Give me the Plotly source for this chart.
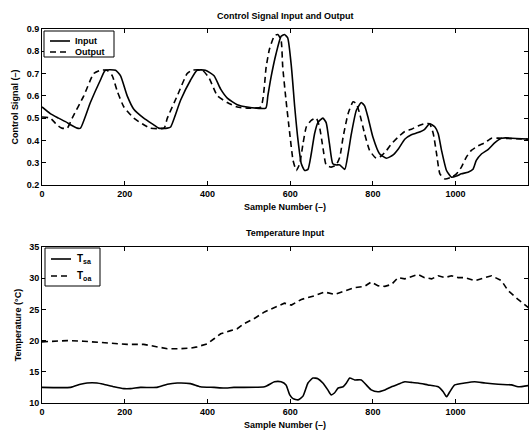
import plotly.graph_objects as go
from plotly.subplots import make_subplots

# ---- Control signal data ----
in_x = [0, 20, 40, 61, 69, 85, 93, 117, 141, 153, 178, 190, 206, 222, 246, 270, 282, 303, 311, 335, 359, 375, 395, 416, 432, 448, 472, 496, 541,
        546, 554, 566, 578, 586, 594, 603, 611, 619, 627, 635, 643, 651, 659, 667, 679, 687, 695, 703, 711, 720, 732, 740, 748, 760, 772, 780, 788,
        800, 816, 833, 849, 861, 877, 893, 909, 925, 937, 950, 958, 966, 978, 990, 1002, 1014, 1030, 1042, 1050, 1063, 1079, 1095, 1111, 1180]
in_y = [0.55, 0.52, 0.50, 0.48, 0.47, 0.455, 0.455, 0.57, 0.67, 0.715, 0.715, 0.69, 0.60, 0.54, 0.50, 0.47, 0.455, 0.455, 0.46, 0.58, 0.67, 0.715, 0.715, 0.69, 0.63, 0.59, 0.56, 0.55, 0.545,
        0.60, 0.686, 0.79, 0.867, 0.875, 0.86, 0.73, 0.55, 0.40, 0.295, 0.265, 0.27, 0.34, 0.43, 0.48, 0.50, 0.48, 0.385, 0.295, 0.29, 0.29, 0.27, 0.34, 0.43, 0.535, 0.57, 0.555,
        0.505, 0.415, 0.34, 0.32, 0.335, 0.36, 0.405, 0.425, 0.435, 0.45, 0.475, 0.46, 0.43, 0.355, 0.265, 0.235, 0.24, 0.25, 0.257, 0.27, 0.31, 0.34, 0.36, 0.39, 0.41, 0.405]

out_x = [0, 20, 36, 48, 61, 73, 101, 125, 141, 157, 170, 182, 198, 222, 246, 262, 295, 303, 327, 351, 363, 388, 404, 424, 448, 472, 496, 529,
         542, 550, 562, 570, 578, 582, 590, 599, 607, 615, 623, 631, 639, 651, 663, 671, 679, 687, 699, 711, 720, 728, 740, 752, 760, 768, 780,
         792, 808, 820, 833, 845, 861, 877, 893, 909, 925, 937, 946, 954, 962, 974, 990, 1002, 1014, 1026, 1038, 1054, 1071, 1087, 1103, 1180]
out_y = [0.505, 0.50, 0.47, 0.455, 0.455, 0.50, 0.60, 0.70, 0.715, 0.715, 0.69, 0.62, 0.55, 0.50, 0.47, 0.455, 0.455, 0.50, 0.60, 0.70, 0.715, 0.715, 0.68, 0.60, 0.57, 0.55, 0.545, 0.55,
         0.73, 0.81, 0.87, 0.875, 0.85, 0.73, 0.58, 0.43, 0.31, 0.265, 0.295, 0.385, 0.46, 0.49, 0.50, 0.46, 0.37, 0.29, 0.28, 0.29, 0.325, 0.415, 0.52, 0.573, 0.565, 0.52, 0.43,
         0.355, 0.32, 0.33, 0.355, 0.385, 0.415, 0.44, 0.45, 0.465, 0.475, 0.475, 0.43, 0.34, 0.25, 0.227, 0.235, 0.25, 0.28, 0.325, 0.355, 0.375, 0.39, 0.41, 0.41, 0.405]

# ---- Temperature data ----
tsa_x = [0, 69, 93, 109, 133, 149, 174, 198, 214, 238, 278, 303, 327, 359, 383, 416, 440, 464, 538, 562, 578, 590, 599, 607, 619, 631, 643,
         655, 667, 679, 691, 699, 707, 716, 728, 736, 744, 756, 772, 784, 796, 812, 829, 845, 861, 877, 893, 909, 933, 958, 970, 978, 986, 998,
         1022, 1046, 1071, 1103, 1135, 1151, 1176]
tsa_y = [12.5, 12.5, 13.0, 13.2, 13.2, 13.0, 12.6, 12.3, 12.3, 12.5, 12.5, 13.0, 13.2, 13.1, 12.6, 12.5, 12.4, 12.5, 12.6, 13.4, 13.4, 12.9, 11.3, 10.7, 10.5, 11.1, 13.2,
         14.0, 13.9, 13.2, 12.1, 11.3, 11.6, 12.4, 12.6, 13.2, 14.0, 13.7, 13.7, 12.9, 12.1, 11.8, 12.1, 12.6, 13.0, 13.4, 13.3, 13.2, 12.9, 12.6, 11.8, 11.0, 11.8, 12.9,
         13.2, 13.4, 13.2, 13.0, 12.9, 12.6, 12.8]

toa_x = [0, 20, 61, 101, 141, 165, 206, 246, 278, 303, 335, 359, 375, 400, 416, 432, 456, 472, 488, 512, 538, 562, 586, 603, 627, 659, 683,
         707, 732, 756, 780, 796, 812, 829, 845, 861, 877, 893, 909, 925, 942, 958, 974, 990, 1006, 1022, 1046, 1071, 1087, 1111, 1127, 1151, 1176]
toa_y = [19.8, 19.9, 20.0, 19.9, 19.7, 19.5, 19.4, 19.4, 19.0, 18.7, 18.7, 18.8, 19.0, 19.5, 20.3, 21.1, 21.6, 21.9, 22.7, 23.5, 24.6, 25.3, 26.0, 25.7, 26.6, 27.2, 27.8,
         27.4, 28.0, 28.5, 28.7, 29.4, 28.8, 28.7, 29.0, 30.1, 29.9, 30.2, 30.6, 30.1, 29.9, 30.4, 30.1, 30.4, 30.1, 30.1, 29.6, 30.1, 30.4, 29.6, 28.0, 26.6, 25.3]

top_names = ["Input", "Output"]
bot_names = ["T<sub>sa</sub>", "T<sub>oa</sub>"]

FONT = dict(family="Liberation Sans, Arial, sans-serif", size=9, color="black", weight="bold")
DASH = "6px,4px"
LW = 1.6

W, H = 529, 435
ML, MR, MT, MB = 42, 1, 29, 32
PW, PH = W - ML - MR, H - MT - MB


def px(x):
    return (x - ML) / PW


def py(y):
    return (H - MB - y) / PH


fig = make_subplots(rows=2, cols=1, vertical_spacing=0.166)

SM = dict(shape="spline", smoothing=0.5)
fig.add_trace(go.Scatter(x=in_x, y=in_y, mode="lines", name=top_names[0], line=dict(color="black", width=LW, **SM)), row=1, col=1)
fig.add_trace(go.Scatter(x=out_x, y=out_y, mode="lines", name=top_names[1], line=dict(color="black", width=LW, dash=DASH, **SM)), row=1, col=1)
fig.add_trace(go.Scatter(x=tsa_x, y=tsa_y, mode="lines", name=bot_names[0], line=dict(color="black", width=LW, **SM)), row=2, col=1)
fig.add_trace(go.Scatter(x=toa_x, y=toa_y, mode="lines", name=bot_names[1], line=dict(color="black", width=LW, dash=DASH)), row=2, col=1)

axcommon = dict(showline=True, linecolor="black", linewidth=1, mirror="ticks", ticks="inside", ticklen=4,
                tickcolor="black", showgrid=False, zeroline=False, tickfont=FONT)

fig.update_xaxes(range=[0, 1175], tickvals=[0, 200, 400, 600, 800, 1000], **axcommon)
fig.update_xaxes(title=dict(text="Sample Number (–)", font=FONT, standoff=5), row=1, col=1)
fig.update_xaxes(title=dict(text="Sample Number (–)", font=FONT, standoff=5), row=2, col=1)
fig.update_yaxes(range=[0.2, 0.9], tickvals=[0.2, 0.3, 0.4, 0.5, 0.6, 0.7, 0.8, 0.9], tickformat=".1f",
                 title=dict(text="Control Signal (–)", font=FONT, standoff=6), row=1, col=1, **axcommon)
fig.update_yaxes(range=[10, 35], tickvals=[10, 15, 20, 25, 30, 35],
                 title=dict(text="Temperature (°C)", font=FONT, standoff=6), row=2, col=1, **axcommon)

shapes = []
annotations = [
    dict(text="Control Signal Input and Output", x=0.5, y=1, xref="paper", yref="paper", xanchor="center", yanchor="bottom", yshift=6, showarrow=False, font=FONT),
    dict(text="Temperature Input", x=0.5, y=0.42, xref="paper", yref="paper", xanchor="center", yanchor="bottom", yshift=6, showarrow=False, font=FONT),
]

# Top legend (manual, compact MATLAB style)
shapes.append(dict(type="rect", xref="paper", yref="paper", x0=px(44), x1=px(114), y0=py(57), y1=py(31),
                   line=dict(color="black", width=1), fillcolor="white", layer="above"))
for i, (yy, dash) in enumerate([(41, "solid"), (52, DASH)]):
    shapes.append(dict(type="line", xref="paper", yref="paper", x0=px(50), x1=px(70), y0=py(yy), y1=py(yy),
                       line=dict(color="black", width=LW, dash=dash), layer="above"))
    annotations.append(dict(text=top_names[i], x=px(73), y=py(yy), xref="paper", yref="paper", xanchor="left", yanchor="middle",
                            showarrow=False, font=FONT))

# Bottom legend
shapes.append(dict(type="rect", xref="paper", yref="paper", x0=px(45), x1=px(100), y0=py(286), y1=py(248),
                   line=dict(color="black", width=1), fillcolor="white", layer="above"))
for i, (yy, dash) in enumerate([(259, "solid"), (276, DASH)]):
    shapes.append(dict(type="line", xref="paper", yref="paper", x0=px(51), x1=px(71), y0=py(yy), y1=py(yy),
                       line=dict(color="black", width=LW, dash=dash), layer="above"))
    annotations.append(dict(text=bot_names[i], x=px(75), y=py(yy), xref="paper", yref="paper", xanchor="left", yanchor="middle",
                            showarrow=False, font=dict(FONT, size=10)))

fig.update_layout(
    width=W, height=H,
    margin=dict(l=ML, r=MR, t=MT, b=MB),
    plot_bgcolor="white", paper_bgcolor="white",
    font=FONT,
    showlegend=False,
    shapes=shapes,
    annotations=annotations,
)

fig.write_html("out.html")
